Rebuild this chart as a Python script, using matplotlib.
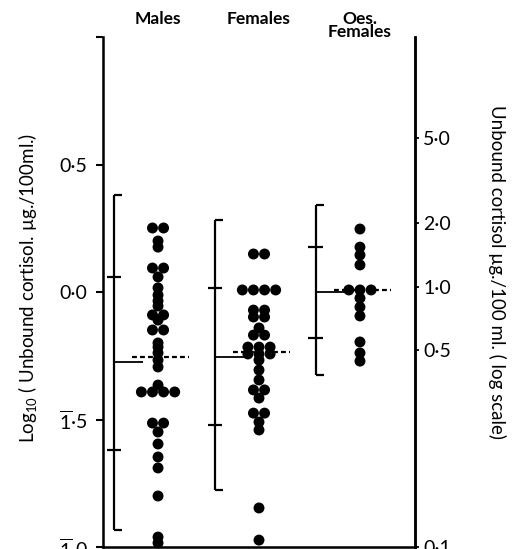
from collections import Counter

import numpy as np
import matplotlib
matplotlib.use("Agg")
import matplotlib.pyplot as plt

plt.rcParams["font.family"] = ["Lato", "DejaVu Sans"]
plt.rcParams["mathtext.default"] = "regular"

groups = ["Males", "Females", "Oes.\nFemales"]

# log10 unbound cortisol (ug/100ml), one value per subject
males = [0.251, 0.251, 0.200, 0.176, 0.094, 0.094, 0.059, 0.016, -0.012,
         -0.035, -0.055, -0.090, -0.090, -0.110, -0.149, -0.149, -0.200,
         -0.216, -0.239, -0.267, -0.294, -0.365, -0.392, -0.392, -0.392,
         -0.392, -0.514, -0.514, -0.549, -0.596, -0.647, -0.690, -0.800,
         -0.961, -0.984]
females = [0.149, 0.149, 0.008, 0.008, 0.008, 0.008, -0.071, -0.071, -0.098,
           -0.098, -0.141, -0.169, -0.169, -0.216, -0.216, -0.216, -0.243,
           -0.243, -0.243, -0.267, -0.306, -0.345, -0.384, -0.384, -0.416,
           -0.475, -0.475, -0.510, -0.541, -0.847, -0.973]
oes_females = [0.247, 0.176, 0.145, 0.106, 0.008, 0.008, 0.008, -0.024,
               -0.059, -0.094, -0.196, -0.239, -0.271]

# range brackets (+2sd / +1sd / mean / -1sd / -2sd) and dashed group mean
range_top = [0.380, 0.282, 0.341]
sd_top = [0.059, 0.016, 0.176]
mean_line = [-0.275, -0.255, 0.0]
sd_bottom = [-0.620, -0.522, -0.180]
range_bottom = [-0.933, -0.776, -0.325]
group_mean = [-0.255, -0.235, 0.008]

left_ticks = [-1.0, -0.5, 0.0, 0.5, 1.0]
left_labels = [r"$\overline{1}$·0", r"$\overline{1}$·5", "0·0", "0·5", ""]
right_labels = ["0·1", "0·5", "1·0", "2·0", "5·0"]
right_tick_pos = [-1.0, -0.227, 0.02, 0.271, 0.604]

fig = plt.figure(figsize=(5.18, 5.49), dpi=100)
ax = fig.add_axes([103 / 518, 1 - 547 / 549, 312 / 518, 510 / 549])
ax.set_xlim(0.455, 3.545)
ax.set_ylim(-1.0, 1.0)

# dots: equal values sit side by side in a row
for i, vals in enumerate([males, females, oes_females]):
    xc = i + 1
    xs, ys = [], []
    for v, k in Counter(vals).items():
        for j in range(k):
            xs.append(xc + (j - (k - 1) / 2) * 0.11)
            ys.append(v)
    ax.scatter(xs, ys, s=62, color="black", edgecolors="none", zorder=3,
               clip_on=False)

# brackets and mean lines
for i in range(3):
    bx = i + 1 - 0.44
    ax.vlines(bx, range_bottom[i], range_top[i], color="black", lw=1.6)
    ax.hlines([range_top[i], range_bottom[i]], bx, bx + 0.08, color="black", lw=1.6)
    ax.hlines([sd_top[i], sd_bottom[i]], bx - 0.07, bx + 0.07, color="black", lw=1.6)
    ax.hlines(mean_line[i], bx, bx + 0.29, color="black", lw=1.3)
    ax.hlines(group_mean[i], i + 1 - 0.26, i + 1 + 0.31, color="black", lw=1.6,
              linestyles=(0, (2.2, 1.4)), zorder=4)

ax.spines["top"].set_visible(False)
for s in ["left", "right", "bottom"]:
    ax.spines[s].set_linewidth(1.8)
ax.set_xticks([])
ax.set_yticks(left_ticks)
ax.set_yticklabels(left_labels, fontsize=14)
ax.tick_params(axis="y", length=5, width=1.5, pad=6)

ax2 = ax.twinx()
ax2.set_ylim(ax.get_ylim())
ax2.spines["top"].set_visible(False)
ax2.spines["right"].set_linewidth(1.8)
ax2.set_yticks(right_tick_pos)
ax2.set_yticklabels(right_labels, fontsize=14)
ax2.tick_params(axis="y", length=3, width=1.3, pad=3)

for i, name in enumerate(groups):
    xf = (103 + (i + 1 - 0.455) / 3.09 * 312) / 518
    fig.text(xf, 1 - 11 / 549, name, ha="center", va="top", fontsize=12.5,
             fontweight="bold", linespacing=0.8)

fig.text(28 / 518, 1 - 288 / 549, "Log$_{10}$ ( Unbound cortisol. µg./100ml.)",
         rotation=90, ha="center", va="center", fontsize=13.5)
fig.text(497 / 518, 1 - 272 / 549, "Unbound cortisol µg./100 ml. ( log scale)",
         rotation=270, ha="center", va="center", fontsize=13.5)

fig.savefig("out.png", dpi=100)
